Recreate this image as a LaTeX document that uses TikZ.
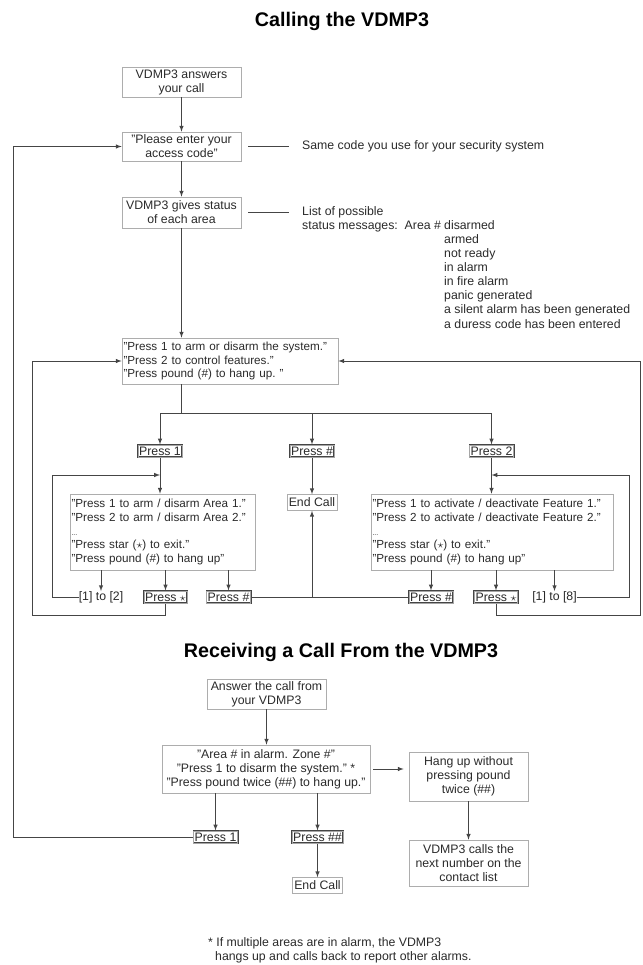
\documentclass[tikz,border=0pt]{standalone}
\usepackage{fontspec}
\setmainfont{Liberation Sans}
\usepackage{amssymb}
\usetikzlibrary{positioning}
\newcommand{\flowfont}{\fontsize{12.3}{14}\selectfont}
\newcommand{\listfont}{\fontsize{11.7}{13.7}\selectfont}
\newcommand{\headfont}{\fontsize{19.7}{22}\selectfont\bfseries}
\newcommand{\starkey}{$\star$}
\newcommand{\moredots}{{\fontsize{7}{7}\selectfont...}}
\definecolor{inkgray}{HTML}{2A2A2A}
\definecolor{linegray}{HTML}{454545}
\definecolor{framegray}{HTML}{ADADAD}
\tikzset{
	>=latex,
	every node/.append style={
		text=inkgray,
		font=\flowfont,
	},
	layer/.append style={
		draw=framegray,
		line width=0.7pt,
		align=center,
		inner sep=1.5pt,
	},
	listbox/.append style={
		layer,
		align=left,
		font=\listfont,
		inner xsep=1.5pt,
		execute at begin node={\hyphenpenalty=10000\exhyphenpenalty=10000},
	},
	keybox/.append style={
		draw=linegray,
		double=black!35,
		double distance=0.5pt,
		line width=0.7pt,
		inner xsep=1.2pt,
		inner ysep=0.3pt,
		minimum height=12.5pt,
	},
	labe/.append style={
		align=left,
		inner sep=0pt,
	},
	head/.append style={
		font=\headfont,
		text=black,
	},
	wire/.append style={
		draw=linegray,
		line width=1pt,
	},
}

\begin{document}
\begin{tikzpicture}[x=1pt, y=-1pt]
		\useasboundingbox (0,0) rectangle (642,965);

		\node(calltitle)[head] at (342,21){Calling the VDMP3};
		\node(rectitle)[head] at (341,652){Receiving a Call From the VDMP3};

		\node(answer)[layer, minimum width=119pt, minimum height=30pt] at (181.5,82){VDMP3 answers\\your call};
		\node(access)[layer, minimum width=119pt, minimum height=29pt] at (181.5,146.5){"Please enter your\\access code"};
		\node(status)[layer, minimum width=119pt, minimum height=31pt] at (181.5,212.5){VDMP3 gives status\\of each area};

		\node(same)[labe, anchor=west] at (302,146.5){Same code you use for your security system};
		\node(statlist)[labe, anchor=base west] at (302,216){%
			\begin{tabular}[t]{@{}p{142pt}@{}l@{}}
				List of possible & \\
				status messages:\ \ Area \# & disarmed\\
				& armed\\
				& not ready\\
				& in alarm\\
				& in fire alarm\\
				& panic generated\\
				& a silent alarm has been generated\\
				& a duress code has been entered
			\end{tabular}};

		\node(menu)[listbox, text width=213pt, minimum height=46pt] at (230,361){"Press 1 to arm or disarm the system."\\"Press 2 to control features."\\"Press pound (\#) to hang up.\ "};

		\node(press1)[keybox] at (160,451){Press 1};
		\node(presspound)[keybox] at (312,451){Press \#};
		\node(press2)[keybox] at (491.5,451){Press 2};

		\node(arealist)[listbox, text width=182pt, minimum height=76pt] at (162.5,532){"Press 1 to arm / disarm Area 1."\\"Press 2 to arm / disarm Area 2."\\\moredots\\"Press star (\starkey) to exit."\\"Press pound (\#) to hang up"};
		\node(endcall)[layer, minimum width=50pt, minimum height=16pt] at (312,502.5){End Call};
		\node(featlist)[listbox, text width=239pt, minimum height=76pt] at (492,532){"Press 1 to activate / deactivate Feature 1."\\"Press 2 to activate / deactivate Feature 2."\\\moredots\\"Press star (\starkey) to exit."\\"Press pound (\#) to hang up"};

		\node(area12)[labe] at (101,597){[1] to [2]};
		\node(lstar)[keybox] at (165.5,597){Press \starkey};
		\node(lpound)[keybox] at (228.5,597){Press \#};
		\node(rpound)[keybox] at (431,597){Press \#};
		\node(rstar)[keybox] at (496,597){Press \starkey};
		\node(feat18)[labe] at (554.5,597){[1] to [8]};

		\coordinate(fork) at (181.5,413);
		\coordinate(aloop) at (52,597);
		\coordinate(ajoin) at (160,475);
		\coordinate(floop) at (629,597);
		\coordinate(fjoin) at (491.5,475);
		\coordinate(lloop) at (32,615);
		\coordinate(rloop) at (640,615);
		\coordinate(far) at (13,837);

		% receiving a call
		\node(answer2)[layer, minimum width=119pt, minimum height=30pt] at (266.5,694){Answer the call from\\your VDMP3};
		\node(alarm)[layer, minimum width=208pt, minimum height=48pt] at (266,769){"Area \# in alarm. Zone \#"\\"Press 1 to disarm the system." *\\"Press pound twice (\#\#) to hang up."};
		\node(hangup)[layer, minimum width=119pt, minimum height=49pt] at (468.5,776.5){Hang up without\\pressing pound\\twice (\#\#)};
		\node(nextnum)[layer, minimum width=119pt, minimum height=46pt] at (468.5,863){VDMP3 calls the\\next number on the\\contact list};
		\node(dpress1)[keybox] at (215.5,837){Press 1};
		\node(dpress2)[keybox] at (317.5,837){Press \#\#};
		\node(endcall2)[layer, minimum width=50pt, minimum height=16pt] at (317.5,885.5){End Call};

		\node(footnote)[labe, anchor=north west] at (208,937){* If multiple areas are in alarm, the VDMP3\\\hspace*{7pt}hangs up and calls back to report other alarms.};

		% calling chain
		\draw[->, wire] (answer) -- (access);
		\draw[->, wire] (access) -- (status);
		\draw[->, wire] (status) -- (status |- menu.north);
		\draw[wire, shorten <=7pt, shorten >=13pt] (access.east) -- (access.east -| same.west);
		\draw[wire, shorten <=7pt, shorten >=13pt] (status.east) -- (status.east -| statlist.west);

		\draw[wire] (menu.south -| fork) -- (fork);
		\draw[->, wire] (fork) -| (press1);
		\draw[->, wire] (fork) -| (presspound);
		\draw[->, wire] (fork) -| (press2);

		% press 1
		\draw[->, wire] (press1) -- (press1 |- arealist.north);
		\draw[->, wire] (area12) -- (aloop) |- (ajoin);
		\foreach \k in {area12, lstar, lpound}
			\draw[->, wire] (\k |- arealist.south) -- (\k);
		\draw[->, wire] (lstar) |- (lloop) |- (menu.west);

		% press pound
		\draw[->, wire] (presspound) -- (endcall);
		\draw[wire] (lpound) -- (rpound);
		\draw[->, wire] (endcall |- lpound) -- (endcall);

		% press 2
		\draw[->, wire] (press2) -- (press2 |- featlist.north);
		\draw[->, wire] (feat18) -- (floop) |- (fjoin);
		\foreach \k in {rpound, rstar, feat18}
			\draw[->, wire] (\k |- featlist.south) -- (\k);
		\draw[->, wire] (rstar) |- (rloop) |- (menu.east);

		% receiving chain
		\draw[->, wire] (answer2) -- (answer2 |- alarm.north);
		\draw[->, wire, shorten <=3pt, shorten >=5pt] (alarm.east) -- (alarm.east -| hangup.west);
		\draw[->, wire] (hangup) -- (nextnum);
		\draw[->, wire] (alarm.south -| dpress1) -- (dpress1);
		\draw[->, wire] (alarm.south -| dpress2) -- (dpress2);
		\draw[->, wire] (dpress2) -- (endcall2);
		\draw[->, wire] (dpress1) -- (far) |- (access);
\end{tikzpicture}
\end{document}
